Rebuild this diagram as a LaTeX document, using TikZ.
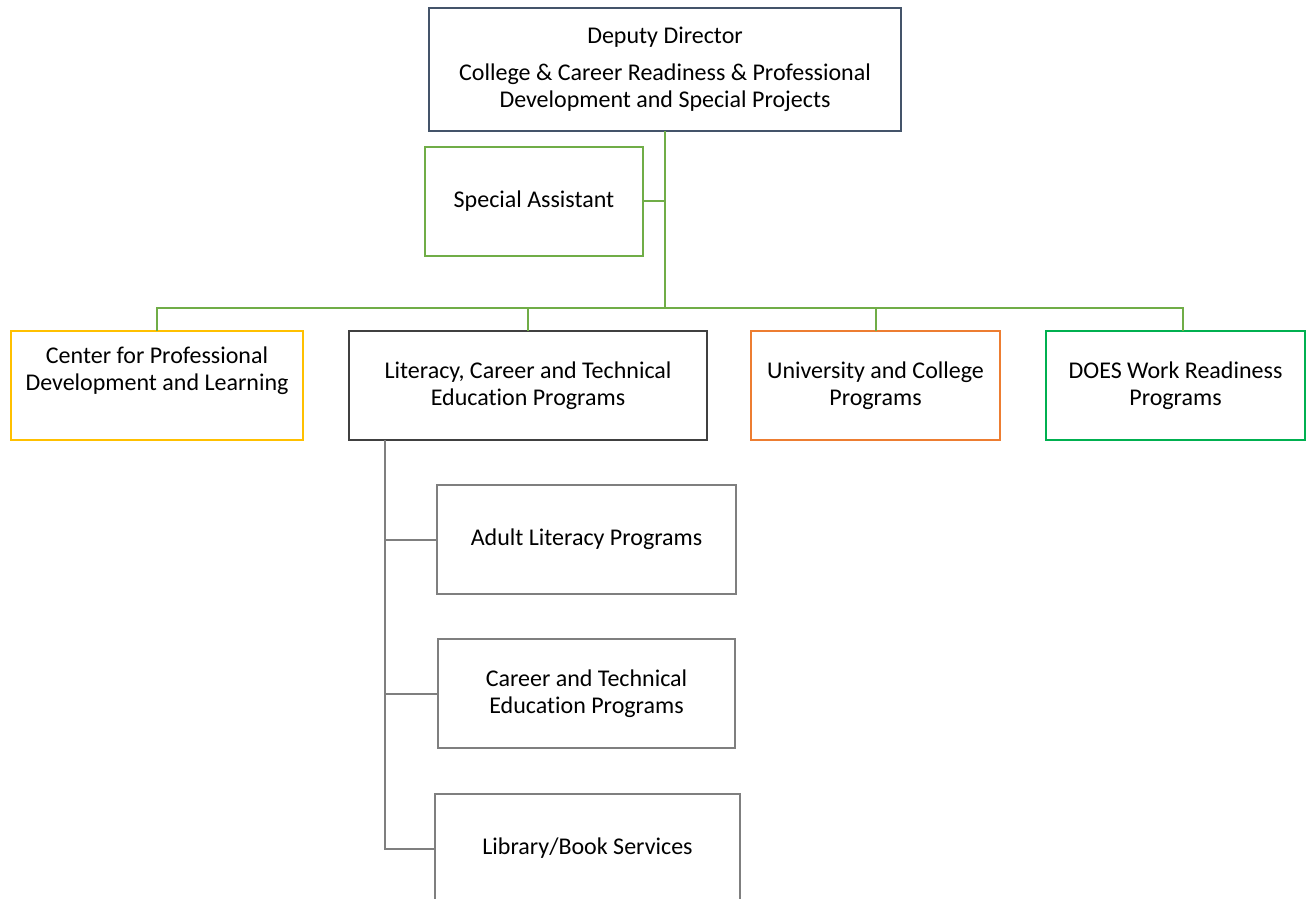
\documentclass[tikz,border=0pt]{standalone}
\usepackage{fontspec}
\setmainfont[Ligatures={NoCommon}]{Carlito}
\definecolor{slate}{HTML}{44546A}
\definecolor{grn}{HTML}{70AD47}
\definecolor{yel}{HTML}{FFC000}
\definecolor{org}{HTML}{ED7D31}
\definecolor{dgrn}{HTML}{00B050}
\definecolor{dark}{HTML}{404040}
\definecolor{gry}{HTML}{7F7F7F}
\tikzset{
  box/.style={draw, line width=2pt, inner sep=0pt, outer sep=0pt, align=center,
    font=\fontsize{24}{27}\selectfont, text=black},
  txt/.style={inner sep=0pt, align=center, font=\fontsize{24}{27}\selectfont, text=black},
  gline/.style={draw=grn, line width=2pt},
  kline/.style={draw=gry, line width=2pt},
}
\begin{document}
\begin{tikzpicture}[x=1pt, y=-1pt]
\useasboundingbox (0,0) rectangle (1306,898);
\clip (0,0) rectangle (1306,898);
% top
\node[box, draw=slate, minimum width=472pt, minimum height=123pt] (dep) at (665,69.5)
  {Deputy Director\\[10pt]College \& Career Readiness \& Professional\\Development and Special Projects};
\node[box, draw=grn, minimum width=218pt, minimum height=109pt] (sa) at (534,201.3) {Special Assistant};
% level 2
\node[box, draw=yel, minimum width=292pt, minimum height=109pt] (cpd) at (157,385.5) {};
\node[txt] (cpdt) at (157,371) {Center for Professional\\Development and Learning};
\node[box, draw=dark, minimum width=358pt, minimum height=109pt] (lit) at (528,385.5)
  {Literacy, Career and Technical\\Education Programs};
\node[box, draw=org, minimum width=249pt, minimum height=109pt] (uni) at (875.5,385.5)
  {University and College\\Programs};
\node[box, draw=dgrn, minimum width=259pt, minimum height=109pt] (does) at (1175.5,385.5)
  {DOES Work Readiness\\Programs};
% level 3
\node[box, draw=gry, minimum width=299pt, minimum height=109pt] (adult) at (586.5,539.5)
  {Adult Literacy Programs};
\node[box, draw=gry, minimum width=297pt, minimum height=109pt] (cte) at (586.5,693.5)
  {Career and Technical\\Education Programs};
\node[box, draw=gry, minimum width=305pt, minimum height=109pt] (lib) at (587.5,848.5)
  {Library/Book Services};
% connectors
\coordinate (bus) at (665,308);
\coordinate (doestop) at (1183,331);
\coordinate (spine) at (385,440);
\draw[gline] (dep.south) -- (bus);
\draw[gline] (sa.east) -- (sa.east -| dep.south);
\draw[gline] (cpd.north) |- (bus);
\draw[gline] (lit.north) |- (bus);
\draw[gline] (uni.north) |- (bus);
\draw[gline] (doestop) |- (bus);
\draw[kline] (spine) |- (lib.west);
\draw[kline] (adult.west) -- (adult.west -| spine);
\draw[kline] (cte.west) -- (cte.west -| spine);
\end{tikzpicture}
\end{document}
